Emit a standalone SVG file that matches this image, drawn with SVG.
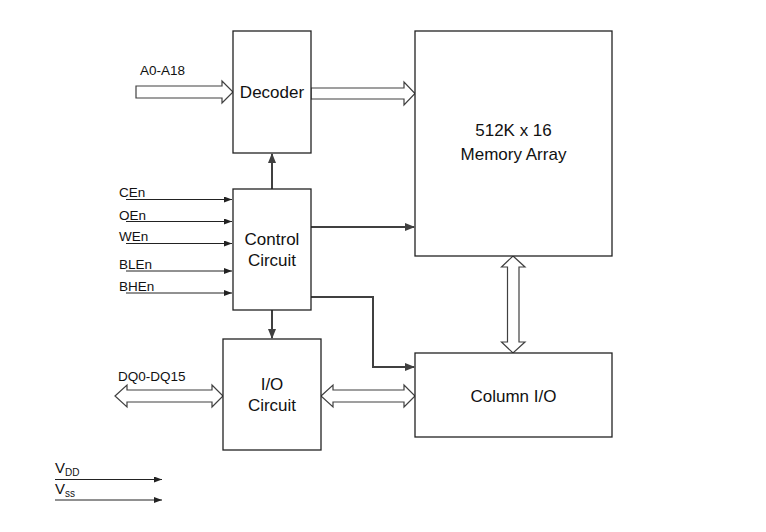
<svg xmlns="http://www.w3.org/2000/svg" width="766" height="532" viewBox="0 0 766 532">
<style>
.box{fill:#fff;stroke:#222;stroke-width:1.3}
.t{font-family:"Liberation Sans",Arial,sans-serif;font-size:17px;fill:#111;text-anchor:middle}
.l{font-family:"Liberation Sans",Arial,sans-serif;font-size:13.5px;fill:#111}
.bus{fill:#fff;stroke:#404040;stroke-width:1.2;stroke-linejoin:miter}
.c{fill:none;stroke:#404040;stroke-width:2}
.s{fill:none;stroke:#222;stroke-width:1}
</style>
<defs>
<marker id="ah" markerWidth="10" markerHeight="8" refX="9" refY="4" orient="auto" markerUnits="userSpaceOnUse">
<path d="M0,0 L10,4 L0,8 z" fill="#404040"/>
</marker>
<marker id="as" markerWidth="8" markerHeight="6" refX="8" refY="3" orient="auto" markerUnits="userSpaceOnUse">
<path d="M0,0 L8,3 L0,6 z" fill="#222"/>
</marker>
</defs>
<g id="connectors">
<path class="bus" d="M136,86 H222 V81 L233,92 L222,103 V98 H136 Z"/>
<path class="bus" d="M311,88 H404 V82 L415,93.5 L404,105 V99 H311 Z"/>
<path class="bus" d="M115,396 L127,385 V390 H212 V385 L223,396 L212,407 V402 H127 V407 Z"/>
<path class="bus" d="M321,396 L333,385 V390 H404 V385 L415,396 L404,407 V402 H333 V407 Z"/>
<path class="bus" d="M513,256 L525,267 H519 V342 H525 L513,353 L501.5,342 H507.5 V267 H501.5 Z"/>
<path class="c" d="M272,189 V154" marker-end="url(#ah)"/>
<path class="c" d="M272,310 V338" marker-end="url(#ah)"/>
<path class="c" d="M311,227 H414" marker-end="url(#ah)"/>
<path class="c" d="M311,297 H373 V367 H414" marker-end="url(#ah)"/>
<path class="s" d="M126,199.5 H232" marker-end="url(#as)"/>
<path class="s" d="M126,221.5 H232" marker-end="url(#as)"/>
<path class="s" d="M126,243.5 H232" marker-end="url(#as)"/>
<path class="s" d="M126,271 H232" marker-end="url(#as)"/>
<path class="s" d="M126,293 H232" marker-end="url(#as)"/>
<path class="s" d="M55,479.5 H162" marker-end="url(#as)"/>
<path class="s" d="M55,500 H162" marker-end="url(#as)"/>
</g>
<g id="decoder">
<rect class="box" x="233" y="31" width="78" height="122"/>
<text class="t" x="272" y="98">Decoder</text>
</g>
<g id="memory-array">
<rect class="box" x="415" y="31" width="197" height="225"/>
<text class="t" x="513.5" y="136">512K x 16</text>
<text class="t" x="513.5" y="160">Memory Array</text>
</g>
<g id="control-circuit">
<rect class="box" x="233" y="189" width="78" height="121"/>
<text class="t" x="272" y="245">Control</text>
<text class="t" x="272" y="266">Circuit</text>
</g>
<g id="io-circuit">
<rect class="box" x="223" y="339" width="98" height="111"/>
<text class="t" x="272" y="390">I/O</text>
<text class="t" x="272" y="411">Circuit</text>
</g>
<g id="column-io">
<rect class="box" x="415" y="353" width="197" height="84"/>
<text class="t" x="513.5" y="402">Column I/O</text>
</g>
<g id="labels">
<text class="l" x="140" y="75">A0-A18</text>
<text class="l" x="119" y="197">CEn</text>
<text class="l" x="119" y="220">OEn</text>
<text class="l" x="119" y="241">WEn</text>
<text class="l" x="119" y="269">BLEn</text>
<text class="l" x="119" y="291">BHEn</text>
<text class="l" x="118" y="381">DQ0-DQ15</text>
<text class="l" x="55" y="473" style="font-size:15px">V<tspan style="font-size:10px" dy="3">DD</tspan></text>
<text class="l" x="55" y="494" style="font-size:15px">V<tspan style="font-size:10px" dy="3">ss</tspan></text>
</g>
</svg>
